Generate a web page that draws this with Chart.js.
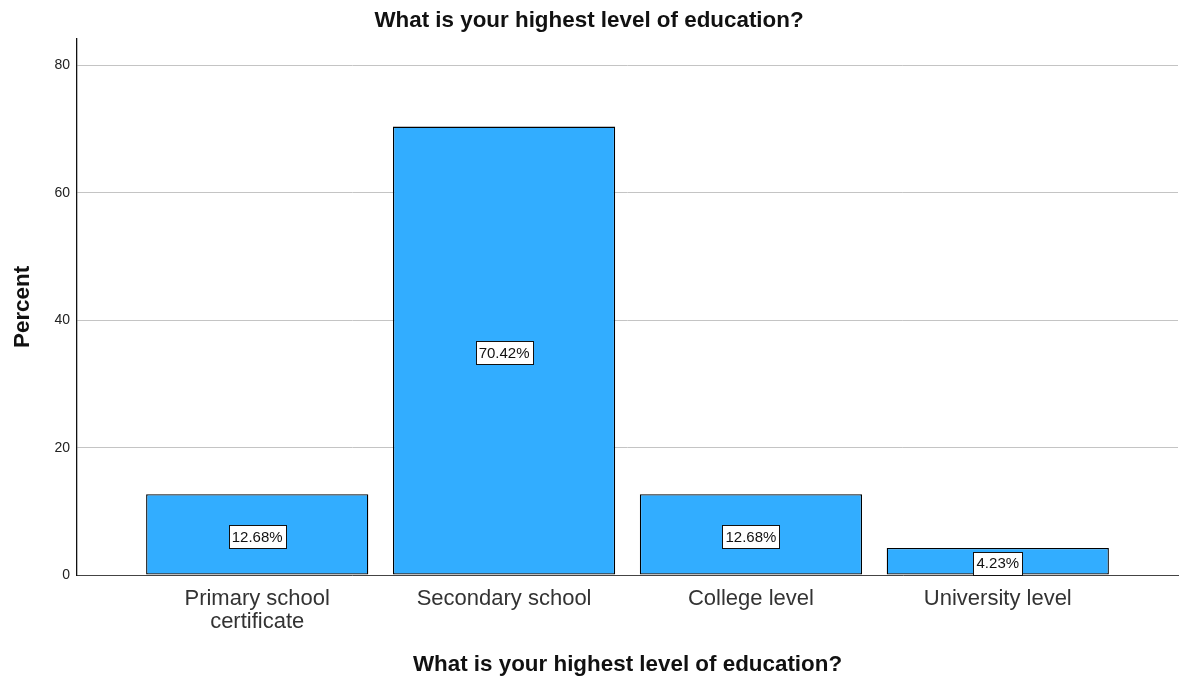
<!DOCTYPE html>
<html>
<head>
<meta charset="utf-8">
<script src="https://cdn.jsdelivr.net/npm/chart.js@4.4.1/dist/chart.umd.min.js"></script>
<style>
  html, body { margin: 0; padding: 0; background: #fff; }
  #wrap { width: 1184px; height: 680px; }
</style>
</head>
<body>
<div id="wrap"><canvas id="eduChart" width="1184" height="680"></canvas></div>
<script>
// datos
var categorias = ['Primary school certificate', 'Secondary school', 'College level', 'University level'];
var etiquetas_eje = [['Primary school', 'certificate'], 'Secondary school', 'College level', 'University level'];
var porcentajes = [12.68, 70.42, 12.68, 4.23];
var ticks_y = [0, 20, 40, 60, 80];

var FUENTE = "'Liberation Sans', Arial, sans-serif";

// caja blanca con el porcentaje en medio de cada barra
var etiquetasBarras = {
    id: 'etiquetasBarras',
    afterDatasetsDraw: function(chart){
        var ctx = chart.ctx;
        var meta = chart.getDatasetMeta(0);
        ctx.save();
        ctx.font = '15px ' + FUENTE;
        ctx.textAlign = 'center';
        ctx.textBaseline = 'middle';
        meta.data.forEach(function(bar, i){
            var texto = porcentajes[i].toFixed(2) + '%';
            var cx = bar.x;
            var cy = (bar.y + bar.base) / 2 + 2;
            var w = Math.round(ctx.measureText(texto).width + 6);
            var h = 23;
            var x0 = Math.round(cx - w / 2) + 0.5;
            var y0 = Math.round(cy - h / 2) + 0.5;
            ctx.fillStyle = '#ffffff';
            ctx.fillRect(x0, y0, w, h);
            ctx.strokeStyle = '#111111';
            ctx.lineWidth = 1;
            ctx.strokeRect(x0, y0, w, h);
            ctx.fillStyle = '#111111';
            ctx.fillText(texto, cx, cy + 1);
        });
        ctx.restore();
    }
};

var datos = porcentajes.map(function(v, i){ return { x: i, y: v }; });

var ctx = document.getElementById('eduChart').getContext('2d');
var eduChart = new Chart(ctx, {
    type: 'bar',
    data: {
        labels: categorias,
        datasets: [{
            label: 'Percent',
            data: datos,
            backgroundColor: '#32adff',
            borderColor: '#000000',
            borderWidth: 1.3,
            borderSkipped: false,
            barPercentage: 0.9,
            categoryPercentage: 1.0
        }]
    },
    options: {
        responsive: false,
        animation: false,
        devicePixelRatio: 1,
        layout: { padding: { left: 0, right: 6, top: 0, bottom: 0 } },
        plugins: {
            legend: { display: false },
            tooltip: { enabled: false },
            title: {
                display: true,
                text: 'What is your highest level of education?',
                color: '#111111',
                font: { family: FUENTE, size: 22.4, weight: 'bold' },
                padding: { top: 7, bottom: 5 }
            }
        },
        scales: {
            x: {
                type: 'linear',
                offset: false,
                min: -0.73,
                max: 3.73,
                afterBuildTicks: function(scale){
                    scale.ticks = categorias.map(function(c, i){ return { value: i }; });
                },
                afterFit: function(scale){ scale.height = 105; },
                grid: { display: false, drawTicks: false, offset: false },
                border: { display: true, color: '#444444', width: 1 },
                ticks: {
                    padding: 12,
                    color: '#333333',
                    font: { family: FUENTE, size: 22, lineHeight: 1.05 },
                    maxRotation: 0,
                    autoSkip: false,
                    callback: function(value){ return etiquetas_eje[value]; }
                },
                title: {
                    display: true,
                    text: 'What is your highest level of education?',
                    color: '#111111',
                    font: { family: FUENTE, size: 22.4, weight: 'bold' },
                    padding: { top: 0, bottom: 2 }
                }
            },
            y: {
                min: 0,
                max: 84.2,
                afterBuildTicks: function(scale){
                    scale.ticks = ticks_y.map(function(v){ return { value: v }; });
                },
                afterFit: function(scale){ scale.width = 77; },
                grid: { color: '#c4c4c4', lineWidth: 1, drawTicks: false },
                border: { display: true, color: '#111111', width: 1.3 },
                ticks: {
                    padding: 7,
                    color: '#222222',
                    font: { family: FUENTE, size: 14 }
                },
                title: {
                    display: true,
                    text: 'Percent',
                    color: '#111111',
                    font: { family: FUENTE, size: 22.4, weight: 'bold' },
                    padding: { top: 9, bottom: 0 }
                }
            }
        }
    },
    plugins: [etiquetasBarras]
});
</script>
</body>
</html>
